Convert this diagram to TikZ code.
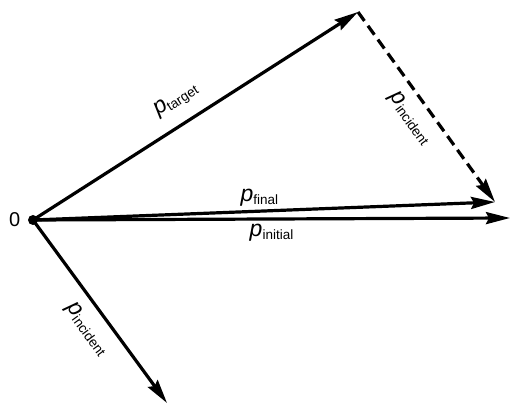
\documentclass[tikz,border=0pt]{standalone}
\usepackage{fontspec}
\setmainfont{Liberation Sans}
\usetikzlibrary{arrows.meta, positioning}
\newcommand{\pvec}[1]{{\fontsize{23}{23}\selectfont\itshape p}\raisebox{-3pt}{\fontsize{13.5}{14}\selectfont #1}}

\begin{document}
\begin{tikzpicture}[x=1pt, y=1pt,
  vec/.style={-{Stealth[length=24pt,width=12pt,inset=3pt]}, line width=3.2pt},
  lbl/.style={inner sep=1pt}]
  \useasboundingbox (0,0) rectangle (511,404);
  \node[circle, fill, inner sep=0pt, minimum size=10pt] (O) at (33,184) {};
  \node[left=4pt of O, font=\fontsize{20}{20}\selectfont] (zero) {0};
  \coordinate (T) at (358,392);
  \coordinate (F) at (495,202);
  \coordinate (I) at (510,186);
  \coordinate (N) at (167,1);
  \draw[vec] (O.center) -- (T)
    node[lbl, pos=0.48, sloped, above=12pt] (lt) {\pvec{target}};
  \draw[vec, dash pattern=on 11pt off 6pt] (T) -- (F)
    node[lbl, pos=0.50, sloped, below=9pt] (ld) {\pvec{incident}};
  \draw[vec] (O.center) -- (F)
    node[lbl, pos=0.49, above=2pt] (lf) {\pvec{final}};
  \draw[vec] (O.center) -- (I)
    node[lbl, pos=0.5, below=3pt] (li) {\pvec{initial}};
  \draw[vec] (O.center) -- (N)
    node[lbl, pos=0.53, sloped, below=10pt] (ln) {\pvec{incident}};
\end{tikzpicture}
\end{document}
